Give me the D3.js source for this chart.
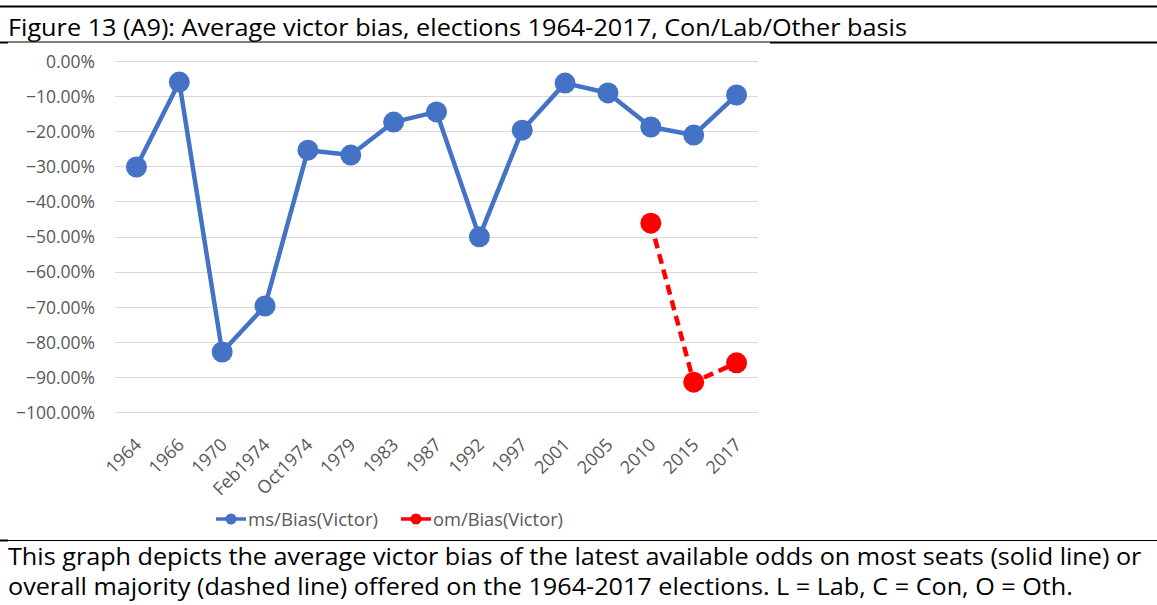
<!DOCTYPE html>
<html>
<head>
<meta charset="utf-8">
<script src="https://cdn.jsdelivr.net/npm/d3@7"></script>
<style>
  html, body { margin: 0; padding: 0; background: #fff; }
  svg { display: block; font-family: "Open Sans", "Noto Sans", sans-serif; }
</style>
</head>
<body>
<div class="visHolder"></div>
<script>
const categories = ["1964", "1966", "1970", "Feb1974", "Oct1974", "1979", "1983", "1987",
  "1992", "1997", "2001", "2005", "2010", "2015", "2017"];
const msBias = [-0.302, -0.060, -0.829, -0.698, -0.254, -0.268, -0.174, -0.145,
  -0.501, -0.197, -0.063, -0.091, -0.188, -0.211, -0.097];
const omBias = [null, null, null, null, null, null, null, null,
  null, null, null, null, -0.462, -0.915, -0.860];
const yTicks = [0, -0.1, -0.2, -0.3, -0.4, -0.5, -0.6, -0.7, -0.8, -0.9, -1.0];
const seriesNames = ["ms/Bias(Victor)", "om/Bias(Victor)"];

const titleText = "Figure 13 (A9): Average victor bias, elections 1964-2017, Con/Lab/Other basis";
const noteLines = [
  "This graph depicts the average victor bias of the latest available odds on most seats (solid line) or",
  "overall majority (dashed line) offered on the 1964-2017 elections. L = Lab, C = Con, O = Oth."
];

const width = 1157;
const height = 605;
const blue = "#4472C4";
const red = "#FF0000";

const svg = d3
  .select(".visHolder")
  .append("svg")
  .attr("width", width)
  .attr("height", height);

// frame lines of the document table
svg.append("line").attr("x1", 0).attr("x2", width).attr("y1", 6.5).attr("y2", 6.5)
  .attr("stroke", "#000").attr("stroke-width", 2);
svg.append("line").attr("x1", 0).attr("x2", 8).attr("y1", 42.5).attr("y2", 42.5)
  .attr("stroke", "#000").attr("stroke-width", 2);
svg.append("line").attr("x1", 8).attr("x2", 770).attr("y1", 42).attr("y2", 42)
  .attr("stroke", "#000").attr("stroke-width", 1);
svg.append("line").attr("x1", 770).attr("x2", width).attr("y1", 42.5).attr("y2", 42.5)
  .attr("stroke", "#000").attr("stroke-width", 2);
svg.append("line").attr("x1", 0).attr("x2", 8).attr("y1", 540.5).attr("y2", 540.5)
  .attr("stroke", "#000").attr("stroke-width", 2);
svg.append("line").attr("x1", 8).attr("x2", width).attr("y1", 540.5).attr("y2", 540.5)
  .attr("stroke", "#000").attr("stroke-width", 1);

svg.append("text")
  .attr("x", 8).attr("y", 35.5)
  .attr("font-size", 24)
  .attr("fill", "#000")
  .attr("textLength", 899)
  .attr("lengthAdjust", "spacingAndGlyphs")
  .text(titleText);

// note below the chart: both lines stretched by the same factor so line 1 fits
const note = svg.append("g");
const noteText = note.selectAll(".note")
  .data(noteLines)
  .enter()
  .append("text")
  .attr("class", "note")
  .attr("x", 0)
  .attr("y", (d, i) => 565.5 + i * 30)
  .attr("font-size", 23)
  .attr("fill", "#000")
  .text((d) => d);
const noteScale = 1134 / noteText.nodes()[0].getComputedTextLength();
note.attr("transform", "translate(8,0) scale(" + noteScale + ",1)");

const xScale = d3.scaleBand().domain(categories).range([115, 758]);
const yScale = d3.scaleLinear().domain([-1, 0]).range([412, 61]);
const cx = (c) => xScale(c) + xScale.bandwidth() / 2;

// gridlines
svg.append("g")
  .selectAll("line")
  .data(yTicks)
  .enter()
  .append("line")
  .attr("x1", 115)
  .attr("x2", 758)
  .attr("y1", (d) => Math.round(yScale(d)) + 0.5)
  .attr("y2", (d) => Math.round(yScale(d)) + 0.5)
  .attr("stroke", "#d9d9d9")
  .attr("stroke-width", 1);

// y axis labels
const yAxis = svg.append("g")
  .attr("transform", "translate(95,0)")
  .call(d3.axisLeft(yScale).tickValues(yTicks).tickSize(0).tickPadding(0)
    .tickFormat((d) => d3.format(".2f")(d * 100) + "%"));
yAxis.select(".domain").remove();
yAxis.selectAll("text")
  .attr("font-family", "'Open Sans', sans-serif")
  .attr("font-size", 17.5)
  .attr("fill", "#595959")
  .attr("dy", "0.36em");

// x axis labels
const xAxis = svg.append("g")
  .attr("transform", "translate(0,412)")
  .call(d3.axisBottom(xScale).tickSize(0).tickPadding(0));
xAxis.select(".domain").remove();
xAxis.selectAll("text")
  .attr("font-family", "'Open Sans', sans-serif")
  .attr("font-size", 18)
  .attr("fill", "#595959")
  .attr("text-anchor", "end")
  .attr("dy", 0)
  .attr("y", 0)
  .attr("transform", "translate(6,34) rotate(-45)");

const line = d3.line()
  .defined((d) => d.v != null)
  .x((d) => cx(d.c))
  .y((d) => yScale(d.v));

const msData = categories.map((c, i) => ({ c: c, v: msBias[i] }));
const omData = categories.map((c, i) => ({ c: c, v: omBias[i] }));

svg.append("path")
  .datum(msData)
  .attr("fill", "none")
  .attr("stroke", blue)
  .attr("stroke-width", 4.5)
  .attr("stroke-linejoin", "round")
  .attr("d", line);

svg.append("path")
  .datum(omData)
  .attr("fill", "none")
  .attr("stroke", red)
  .attr("stroke-width", 4.5)
  .attr("stroke-dasharray", "10,6")
  .attr("d", line);

svg.append("g")
  .selectAll("circle")
  .data(msData)
  .enter()
  .append("circle")
  .attr("cx", (d) => cx(d.c))
  .attr("cy", (d) => yScale(d.v))
  .attr("r", 10.5)
  .attr("fill", blue);

svg.append("g")
  .selectAll("circle")
  .data(omData.filter((d) => d.v != null))
  .enter()
  .append("circle")
  .attr("cx", (d) => cx(d.c))
  .attr("cy", (d) => yScale(d.v))
  .attr("r", 10.5)
  .attr("fill", red);

// legend
const legend = svg.append("g").attr("transform", "translate(0,519)");
const legendX = [216, 401];
const legendColors = [blue, red];

legendX.forEach((x, i) => {
  legend.append("line")
    .attr("x1", x).attr("x2", x + 30)
    .attr("y1", 0).attr("y2", 0)
    .attr("stroke", legendColors[i])
    .attr("stroke-width", 3.5);
  legend.append("circle")
    .attr("cx", x + 15).attr("cy", 0)
    .attr("r", 5.5)
    .attr("fill", legendColors[i]);
  legend.append("text")
    .attr("x", x + 32).attr("y", 6.5)
    .attr("font-size", 18)
    .attr("fill", "#595959")
    .attr("textLength", 130)
    .attr("lengthAdjust", "spacingAndGlyphs")
    .text(seriesNames[i]);
});
</script>
</body>
</html>
